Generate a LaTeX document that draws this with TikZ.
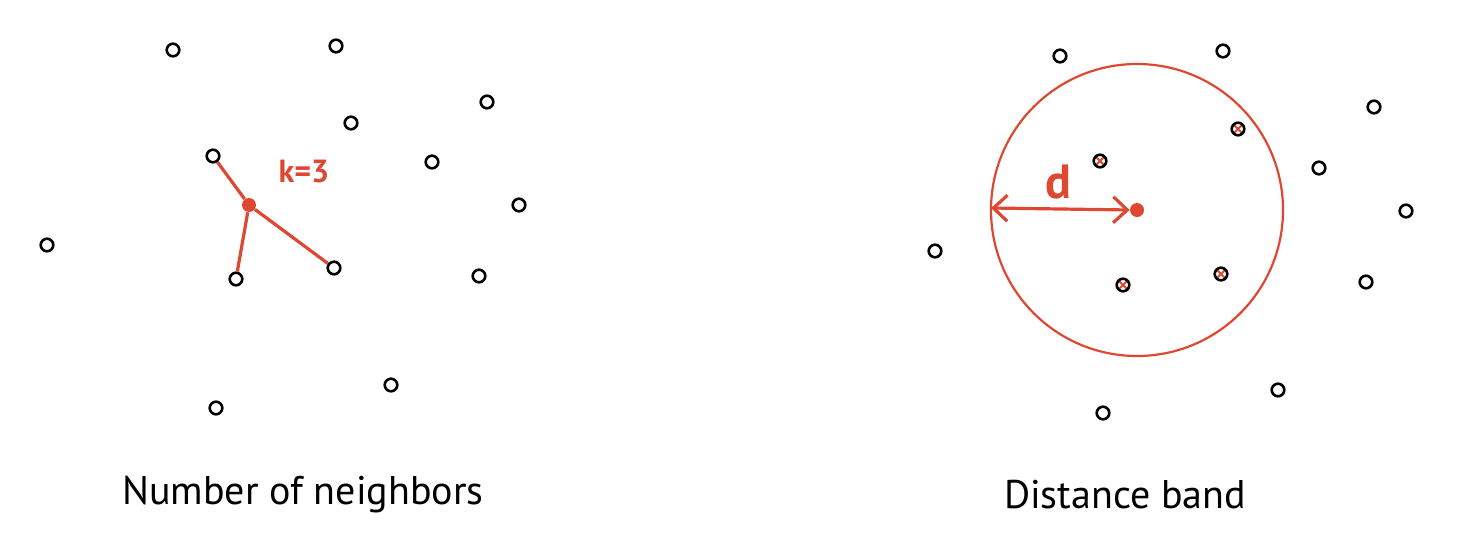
\documentclass[tikz,border=0pt]{standalone}
\usepackage{fontspec}
\setmainfont{PT Sans}
\usetikzlibrary{arrows.meta}

\definecolor{handred}{RGB}{222,72,50}

\begin{document}
\begin{tikzpicture}[
    x=0.5pt,y=-0.5pt,
    pt/.style={draw,circle,line width=1.3pt,minimum size=6.3pt,inner sep=0pt},
    hit/.style={pt,path picture={\draw[handred,line width=0.9pt] (path picture bounding box.south west) -- (path picture bounding box.north east) (path picture bounding box.north west) -- (path picture bounding box.south east);}},
    focus/.style={circle,fill=handred,minimum size=7pt,inner sep=0pt},
    link/.style={handred,line width=1.6pt},
    caption/.style={font=\fontsize{20}{24}\selectfont}
]
\useasboundingbox (0,0) rectangle (1457,546);

% number of neighbors
\node[pt] (a1) at (173,50) {};
\node[pt] (a2) at (336,46) {};
\node[pt] (a3) at (487,102) {};
\node[pt] (a4) at (351,123) {};
\node[pt] (a5) at (213,156) {};
\node[pt] (a6) at (432,162) {};
\node[pt] (a7) at (519,205) {};
\node[pt] (a8) at (47,245) {};
\node[pt] (a9) at (236,279) {};
\node[pt] (a10) at (334,268) {};
\node[pt] (a11) at (479,276) {};
\node[pt] (a12) at (391,385) {};
\node[pt] (a13) at (216,408) {};
\node[focus] (knnc) at (249,205) {};
\node[text=handred,font=\bfseries\fontsize{16}{18}\selectfont] (klabel) at (304,172) {k=3};

\draw[link] (knnc) -- (a5);
\draw[link] (knnc) -- (a9);
\draw[link] (knnc) -- (a10);

\node[caption] (knncap) at (303,495) {Number of neighbors};

% distance band
\node[pt] (b1) at (1060,56) {};
\node[pt] (b2) at (1223,51) {};
\node[pt] (b3) at (1374,107) {};
\node[hit] (b4) at (1238,129) {};
\node[hit] (b5) at (1100,161) {};
\node[pt] (b6) at (1319,168) {};
\node[pt] (b7) at (1406,211) {};
\node[pt] (b8) at (935,251) {};
\node[hit] (b9) at (1123,285) {};
\node[hit] (b10) at (1221,274) {};
\node[pt] (b11) at (1366,282) {};
\node[pt] (b12) at (1278,390) {};
\node[pt] (b13) at (1103,413) {};
\node[focus] (bandc) at (1137,210) {};
\draw[handred,line width=1.1pt] (bandc.center) circle[radius=146];
\coordinate (rim) at (991,208);
\draw[link,{Straight Barb[length=7pt,width=13pt]}-{Straight Barb[length=7pt,width=13pt]}] (rim) -- (bandc.west);
\node[text=handred,font=\bfseries\fontsize{24}{26}\selectfont] (dlabel) at (1058,182) {d};

\node[caption] (bandcap) at (1125,495) {Distance band};

\end{tikzpicture}
\end{document}
